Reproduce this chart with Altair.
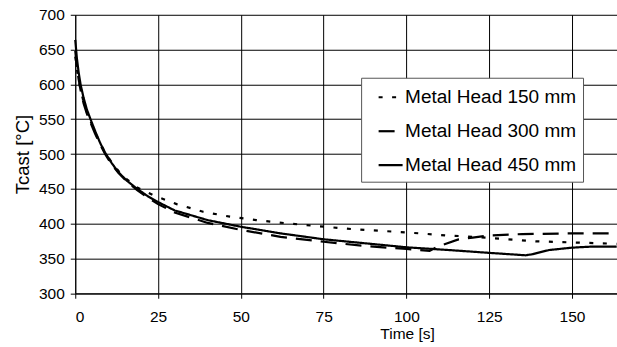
import altair as alt
import pandas as pd

# ---- data ----
series_names = ["Metal Head 150 mm", "Metal Head 300 mm", "Metal Head 450 mm"]

t150 = [0, 0.5, 1, 1.6, 2.5, 3.5, 4.6, 6, 7.5, 9, 11, 13, 15.5, 18.7, 23.5, 30.6, 38.6,
        46.7, 54.7, 63.8, 71.8, 84, 96, 104, 112, 117, 128, 139, 150, 163.5]
T150 = [640, 622, 606, 593, 575, 560, 547, 531, 516, 502, 488, 476, 464, 452, 441, 428, 417,
        410, 405, 400.5, 397, 392, 388.5, 386, 383, 382, 378.5, 374.6, 373, 371]

t300 = [0, 0.5, 1, 1.6, 2.5, 3.5, 4.6, 6, 7.5, 9, 11, 13, 15.5, 18.7, 22, 25, 30, 40, 50,
        62, 75, 87, 100, 107, 110, 115.5, 120, 125, 135, 150, 163.5]
T300 = [648, 625, 608, 592, 573, 558, 545, 529, 514, 500, 485, 473, 461, 448, 437, 428, 416,
        401, 391, 381, 374, 368, 363.6, 361, 368, 377, 380, 383, 385, 386, 386]

t450 = [0, 0.5, 1, 1.6, 2.5, 3.5, 4.6, 6, 7.5, 9, 11, 13, 15.5, 18.7, 22, 25, 30, 40, 50,
        62, 75, 87, 100, 113, 125, 136, 138, 143, 150, 156, 163.5]
T450 = [664, 637, 618, 600, 581, 564, 550, 533, 516, 502, 487, 474, 462, 450, 439, 431, 419,
        405, 395.5, 386, 377.5, 372, 366, 362, 358, 354.5, 356, 362, 365.5, 367, 367]

x_ticks = [0, 25, 50, 75, 100, 125, 150]
y_ticks = [300, 350, 400, 450, 500, 550, 600, 650, 700]

rows = []
for name, ts, vs in zip(series_names, [t150, t300, t450], [T150, T300, T450]):
    for i, (t, v) in enumerate(zip(ts, vs)):
        rows.append({"series": name, "time": t, "temp": v, "order": i})
df = pd.DataFrame(rows)

FONT = "Liberation Sans"

chart = alt.Chart(df).mark_line(strokeWidth=2.2, color="black").encode(
    x=alt.X("time:Q",
            scale=alt.Scale(domain=[0, 163.5], nice=False, zero=False),
            axis=alt.Axis(values=x_ticks, title="Time [s]", titleX=332, titleY=40,
                          titleBaseline="middle", titleFontSize=15.5, labelPadding=11)),
    y=alt.Y("temp:Q",
            scale=alt.Scale(domain=[300, 700], nice=False, zero=False),
            axis=alt.Axis(values=y_ticks, title="Tcast [°C]", titleX=-53, titleY=139.3,
                          titleBaseline="middle", titleFontSize=18.5, labelPadding=6)),
    strokeDash=alt.StrokeDash(
        "series:N",
        scale=alt.Scale(domain=series_names, range=[[4, 9.5], [16, 9], [1, 0]]),
        legend=alt.Legend(title=None, orient="none", legendX=286, legendY=63,
                          fillColor="white", strokeColor="#555555", padding=6,
                          labelFontSize=19, labelFont=FONT, labelColor="black",
                          labelLimit=400, symbolType="stroke",
                          labelExpr="datum.label + '\u00a0\u00a0\u00a0\u00a0\u00a0\u00a0\u2009'",
                          symbolSize=576, symbolStrokeWidth=2.2, symbolStrokeColor="black",
                          symbolOffset=10, rowPadding=10, labelOffset=1),
    ),
    detail="series:N",
    order="order:Q",
).properties(
    width=541.7, height=278.6,
    background="white",
    autosize=alt.AutoSizeParams(type="none"),
    padding={"left": 75.3, "top": 14.7, "right": 0.3, "bottom": 53.7},
).configure_view(
    strokeWidth=0
).configure_axis(
    grid=True, gridColor="black", gridWidth=1, gridOpacity=1,
    domainColor="black", domainWidth=1, tickColor="black", tickSize=5,
    labelFont=FONT, titleFont=FONT, labelFontSize=15.5, labelColor="black",
    titleColor="black", titleFontWeight="normal",
)

chart.save("out.html", embed_options={"renderer": "svg", "actions": False})
